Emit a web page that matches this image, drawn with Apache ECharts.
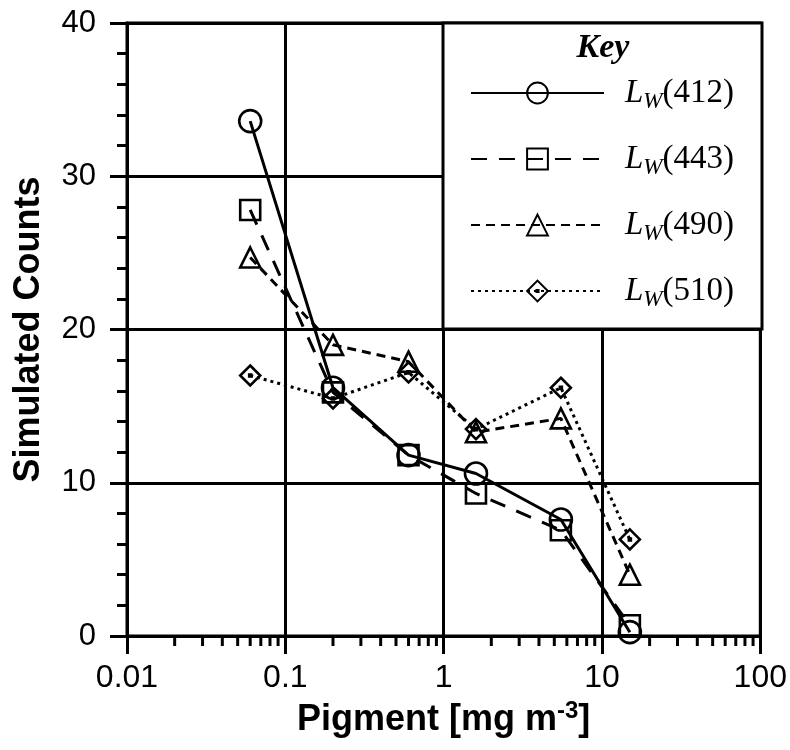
<!DOCTYPE html>
<html>
<head>
<meta charset="utf-8">
<script src="https://cdn.jsdelivr.net/npm/echarts@6/dist/echarts.min.js"></script>
<style>html,body{margin:0;padding:0;background:#fff}#c{width:790px;height:750px}</style>
</head>
<body>
<div id="c"></div>
<script>
// ---- data ----
const pigment = [0.06, 0.2, 0.6, 1.6, 5.5, 15];
const lw412 = [33.6, 16.2, 11.8, 10.6, 7.6, 0.25];
const lw443 = [27.8, 15.9, 11.8, 9.3, 6.9, 0.7];
const lw490 = [24.7, 19.0, 17.9, 13.3, 14.2, 4.0];
const lw510 = [17.0, 15.5, 17.2, 13.5, 16.2, 6.3];
const seriesNames = ['412', '443', '490', '510'];
const yTicks = [0, 10, 20, 30, 40];
const xTickLabels = ['0.01', '0.1', '1', '10', '100'];
const xMinorTicks = [0.02,0.03,0.04,0.05,0.06,0.07,0.08,0.09,
  0.2,0.3,0.4,0.5,0.6,0.7,0.8,0.9,
  2,3,4,5,6,7,8,9,
  20,30,40,50,60,70,80,90];

const FONT = '"Liberation Sans", Arial, sans-serif';
const SERIF = '"Liberation Serif", "Times New Roman", serif';
const chart = echarts.init(document.getElementById('c'));

function pairs(ys) { return pigment.map((x, i) => [x, ys[i]]); }

const diamondDot = 'path://M10,0L20,10L10,20L0,10Z M9,9L11,9L11,11L9,11Z';

function mk(name, ys, symbol, dash, size) {
  return {
    name: name, type: 'line', data: pairs(ys),
    symbol: symbol, symbolSize: size,
    lineStyle: { color: '#000', width: 3, type: dash },
    itemStyle: { color: 'none', borderColor: '#000', borderWidth: 2.6 },
    z: 3, animation: false
  };
}

const AX = 3;

chart.setOption({
  animation: false,
  backgroundColor: '#fff',
  grid: { left: 127, right: 28, top: 23, bottom: 114, show: true, borderColor: '#000', borderWidth: AX },
  xAxis: {
    type: 'log', logBase: 10, min: 0.01, max: 100,
    axisLine: { lineStyle: { color: '#000', width: AX } },
    axisTick: { show: true, length: 18, lineStyle: { color: '#000', width: AX } },
    splitLine: { show: true, lineStyle: { color: '#000', width: AX } },
    axisLabel: { color: '#000', fontFamily: FONT, fontSize: 32, margin: 26,
      formatter: function (v) { const i = Math.round(Math.log10(v)) + 2; return xTickLabels[i]; } },
    name: 'Pigment [mg m{sup|-3}]', nameLocation: 'middle', nameGap: 58,
    nameTextStyle: { color: '#000', fontFamily: FONT, fontWeight: 'bold', fontSize: 36,
      rich: { sup: { fontFamily: FONT, fontWeight: 'bold', fontSize: 24, padding: [0, 0, 18, 0], color: '#000' } } }
  },
  yAxis: {
    type: 'value', min: 0, max: 40, interval: 10,
    axisLine: { lineStyle: { color: '#000', width: AX } },
    axisTick: { show: true, length: 17, lineStyle: { color: '#000', width: AX } },
    minorTick: { show: true, splitNumber: 5, length: 10, lineStyle: { color: '#000', width: AX } },
    splitLine: { show: true, lineStyle: { color: '#000', width: AX } },
    axisLabel: { color: '#000', fontFamily: FONT, fontSize: 31, margin: 31,
      formatter: function (v) { return yTicks.indexOf(v) >= 0 ? String(v) : ''; } },
    name: 'Simulated Counts', nameLocation: 'middle', nameGap: 80,
    nameTextStyle: { color: '#000', fontFamily: FONT, fontWeight: 'bold', fontSize: 36 }
  },
  graphic: [
    { type: 'rect', z: 50, shape: { x: 443, y: 23, width: 319, height: 306 },
      style: { fill: '#fff', stroke: '#000', lineWidth: AX } },
    { type: 'text', z: 51, x: 603, y: 48,
      style: { text: 'Key', font: 'italic bold 34px "Liberation Serif"', fill: '#000', align: 'center', verticalAlign: 'middle' } }
  ],
  legend: {
    z: 60, orient: 'vertical', left: 470, top: 73, padding: 0,
    itemWidth: 133, itemHeight: 26, itemGap: 26,
    data: seriesNames,
    formatter: function (n) { return '{l|L}{w|W}{n|(' + n + ')}'; },
    textStyle: {
      color: '#000', lineHeight: 40,
      rich: {
        l: { fontFamily: SERIF, fontStyle: 'italic', fontSize: 33, padding: [0, 0, 0, 16], lineHeight: 40, verticalAlign: 'middle' },
        w: { fontFamily: SERIF, fontStyle: 'italic', fontSize: 23, lineHeight: 40, verticalAlign: 'bottom' },
        n: { fontFamily: SERIF, fontSize: 33, lineHeight: 40, verticalAlign: 'middle' }
      }
    }
  },
  series: [
    mk('412', lw412, 'circle', 'solid', 22),
    mk('443', lw443, 'rect', [16, 12], 20),
    mk('490', lw490, 'triangle', [9, 6], 20),
    mk('510', lw510, diamondDot, [3, 4], 20),
    {
      type: 'custom', silent: true, animation: false, clip: false, z: 4,
      data: xMinorTicks.map(v => [v, 0]),
      renderItem: function (params, api) {
        const p = api.coord([api.value(0), 0]);
        return { type: 'line', shape: { x1: p[0], y1: p[1], x2: p[0], y2: p[1] + 10 },
          style: { stroke: '#000', lineWidth: AX } };
      }
    }
  ]
});
</script>
</body>
</html>
